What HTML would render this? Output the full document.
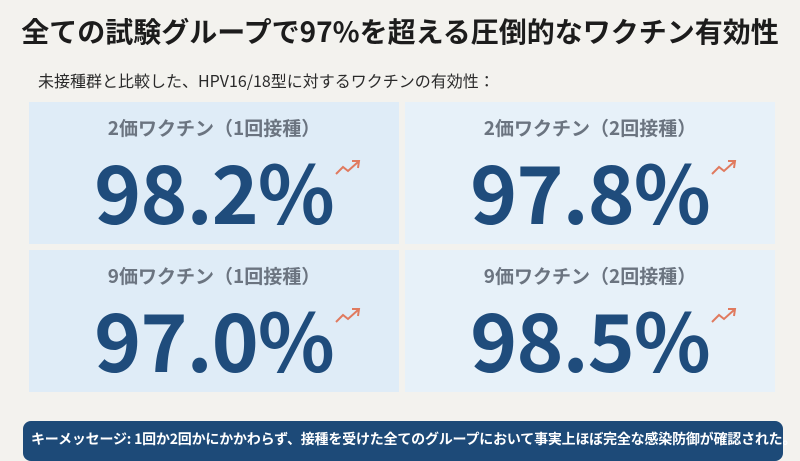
<!DOCTYPE html>
<html><head><meta charset="utf-8"><style>
body{margin:0;width:800px;height:446px;background:#f3f2ee;font-family:"Liberation Sans","Noto Sans CJK JP",sans-serif;position:relative;overflow:hidden}
.t{position:absolute;left:0;right:0;top:11px;text-align:center;font-size:28px;font-weight:bold;color:#1c1c1c;font-family:"Noto Sans CJK JP",sans-serif;white-space:nowrap}
.s{position:absolute;left:38px;top:68px;font-size:16px;color:#2a2a2a;font-family:"Noto Sans CJK JP",sans-serif;white-space:nowrap}
.c{position:absolute;width:370px;height:142px;background:#dfecf7}
.c.l{background:#e7f1f9}
.c .h{position:absolute;left:0;right:0;top:12px;text-align:center;font-size:19px;font-weight:bold;color:#6b7480;font-family:"Noto Sans CJK JP",sans-serif}
.c .n{position:absolute;left:0;right:0;top:38px;text-align:center;font-size:80px;font-weight:bold;color:#1f4c7c;font-family:"Noto Sans CJK JP",sans-serif;line-height:100px;letter-spacing:-1px}
.c svg{position:absolute;left:305px;top:56px}
.k{position:absolute;left:23px;top:421px;width:760px;height:40px;background:#1d4a78;border-radius:8px}
.k span{position:absolute;left:8px;top:8px;color:#fff;font-size:14px;font-weight:bold;letter-spacing:-0.2px;font-family:"Noto Sans CJK JP",sans-serif;white-space:nowrap}
</style></head><body>
<div class="t">全ての試験グループで97%を超える圧倒的なワクチン有効性</div>
<div class="s">未接種群と比較した、HPV16/18型に対するワクチンの有効性：</div>
<div class="c" style="left:29px;top:102px"><div class="h">2価ワクチン（1回接種）</div><div class="n">98.2%</div><svg width="28" height="20"><polyline points="2,16 9,9 14,13 24,4" fill="none" stroke="#e07a5f" stroke-width="2"/><polyline points="18,3 25,3 24,10" fill="none" stroke="#e07a5f" stroke-width="2"/></svg></div>
<div class="c l" style="left:405px;top:102px"><div class="h">2価ワクチン（2回接種）</div><div class="n">97.8%</div><svg width="28" height="20"><polyline points="2,16 9,9 14,13 24,4" fill="none" stroke="#e07a5f" stroke-width="2"/><polyline points="18,3 25,3 24,10" fill="none" stroke="#e07a5f" stroke-width="2"/></svg></div>
<div class="c" style="left:29px;top:250px"><div class="h">9価ワクチン（1回接種）</div><div class="n">97.0%</div><svg width="28" height="20"><polyline points="2,16 9,9 14,13 24,4" fill="none" stroke="#e07a5f" stroke-width="2"/><polyline points="18,3 25,3 24,10" fill="none" stroke="#e07a5f" stroke-width="2"/></svg></div>
<div class="c l" style="left:405px;top:250px"><div class="h">9価ワクチン（2回接種）</div><div class="n">98.5%</div><svg width="28" height="20"><polyline points="2,16 9,9 14,13 24,4" fill="none" stroke="#e07a5f" stroke-width="2"/><polyline points="18,3 25,3 24,10" fill="none" stroke="#e07a5f" stroke-width="2"/></svg></div>
<div class="k"><span>キーメッセージ: 1回か2回かにかかわらず、接種を受けた全てのグループにおいて事実上ほぼ完全な感染防御が確認された。</span></div>
</body></html>
